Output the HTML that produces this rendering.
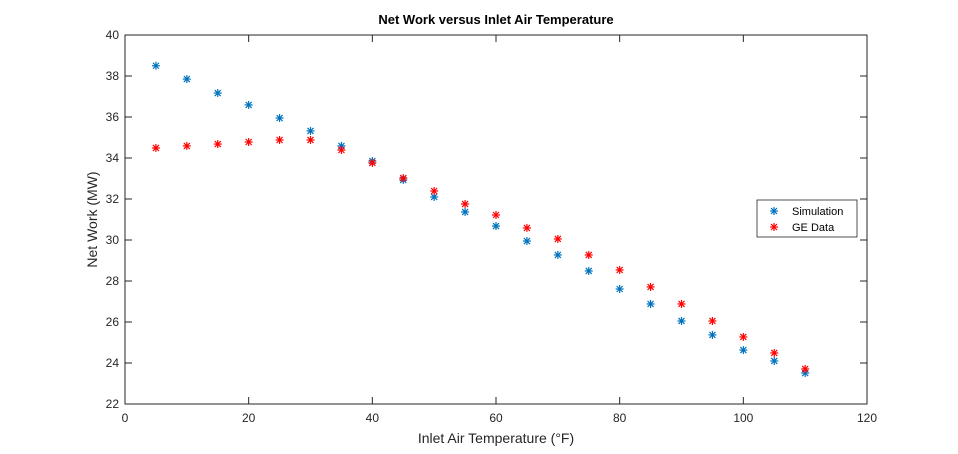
<!DOCTYPE html>
<html><head><meta charset="utf-8"><style>body{margin:0;background:#fff}svg{display:block;font-family:"Liberation Sans",sans-serif}</style></head>
<body>
<svg id="chart" width="958" height="454"></svg>
<script>
const xs=[5,10,15,20,25,30,35,40,45,50,55,60,65,70,75,80,85,90,95,100,105,110];
const simulation=[38.5,37.85,37.17,36.59,35.95,35.32,34.59,33.85,32.93,32.1,31.37,30.68,29.95,29.27,28.49,27.61,26.88,26.05,25.37,24.63,24.1,23.51];
const geData=[34.49,34.59,34.68,34.78,34.88,34.88,34.39,33.76,33.02,32.39,31.76,31.22,30.59,30.05,29.27,28.54,27.71,26.88,26.05,25.27,24.49,23.71];
const xTicks=[0,20,40,60,80,100,120];
const yTicks=[22,24,26,28,30,32,34,36,38,40];
const L=125,R=867,T=35,B=404;
const X=v=>L+(v-0)/120*(R-L), Y=v=>B-(v-22)/18*(B-T);
const svg=document.getElementById('chart');const NS='http://www.w3.org/2000/svg';
function mk(t,a,p){const e=document.createElementNS(NS,t);for(const k in a)e.setAttribute(k,a[k]);(p||svg).appendChild(e);return e;}
let e=mk('rect',{x:L,y:T,width:R-L,height:B-T,fill:'#fff',stroke:'#262626','stroke-width':1});


xTicks.forEach(v=>{const x=X(v);mk('line',{x1:x,x2:x,y1:B,y2:B-7,stroke:'#262626'});mk('line',{x1:x,x2:x,y1:T,y2:T+7,stroke:'#262626'});
 const t=mk('text',{x:x,y:B+18,'text-anchor':'middle','font-size':12,fill:'#262626'});t.textContent=v;
 
 });
yTicks.forEach(v=>{const y=Y(v);mk('line',{x1:L,x2:L+7,y1:y,y2:y,stroke:'#262626'});mk('line',{x1:R,x2:R-7,y1:y,y2:y,stroke:'#262626'});
 const t=mk('text',{x:L-6,y:y+4,'text-anchor':'end','font-size':12,fill:'#262626'});t.textContent=v;
 
 });
function star(x,y,c,name){const g=mk('g',{stroke:c,'stroke-width':1.2});
 
 
 const s=4;mk('line',{x1:x-s,x2:x+s,y1:y,y2:y},g);mk('line',{x1:x,x2:x,y1:y-s,y2:y+s},g);
 mk('line',{x1:x-3,x2:x+3,y1:y-3,y2:y+3},g);mk('line',{x1:x-3,x2:x+3,y1:y+3,y2:y-3},g);}
xs.forEach((v,i)=>star(X(v),Y(simulation[i]),'#0072bd','simulation-point'));
xs.forEach((v,i)=>star(X(v),Y(geData[i]),'#ff0000','ge-data-point'));
let t=mk('text',{x:(L+R)/2,y:24,'text-anchor':'middle','font-size':13,'font-weight':'bold',fill:'#000'});t.textContent='Net Work versus Inlet Air Temperature';

t=mk('text',{x:(L+R)/2,y:443,'text-anchor':'middle','font-size':14,fill:'#262626'});t.textContent='Inlet Air Temperature (°F)';

t=mk('text',{x:0,y:0,'text-anchor':'middle','font-size':14,fill:'#262626',transform:`translate(97,${(T+B)/2}) rotate(-90)`});t.textContent='Net Work (MW)';

const lg=mk('g',{});
mk('rect',{x:757,y:200,width:100,height:37,fill:'#fff',stroke:'#262626','stroke-width':0.8},lg);
star(774,211,'#0072bd','legend-simulation-marker');star(774,227,'#ff0000','legend-ge-marker');
t=mk('text',{x:792,y:215,'font-size':11,fill:'#000'},lg);t.textContent='Simulation';

t=mk('text',{x:792,y:231,'font-size':11,fill:'#000'},lg);t.textContent='GE Data';

</script>
</body></html>
